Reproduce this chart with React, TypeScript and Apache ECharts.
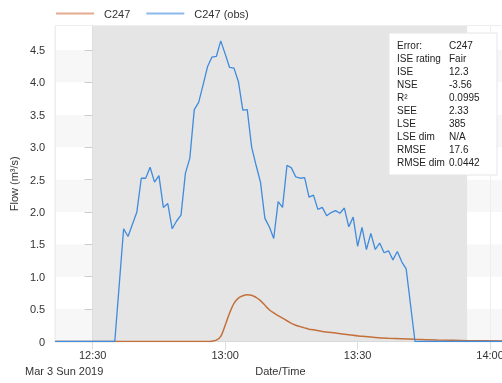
import React, { useEffect, useRef } from "react";
import * as echarts from "echarts";

// minutes after 12:30 on Mar 3 2019
const obsTimes = [-8.5, 5, 7, 8, 10, 11, 12, 13, 14, 15, 16, 17, 18, 19, 20, 21, 22, 23, 24, 25, 26, 27, 28, 29, 30, 31, 32, 33, 34, 35, 36, 37, 38, 39, 40, 41, 42, 43, 44, 45, 46, 47, 48, 49, 50, 51, 52, 53, 54, 55, 56, 57, 58, 59, 60, 61, 62, 63, 64, 65, 66, 67, 68, 69, 70, 71, 73, 93.5];
const obsValues = [0, 0, 1.74, 1.62, 2.0, 2.52, 2.52, 2.69, 2.46, 2.56, 2.07, 2.13, 1.74, 1.86, 1.95, 2.6, 2.83, 3.58, 3.69, 3.96, 4.24, 4.39, 4.4, 4.64, 4.44, 4.23, 4.22, 4.01, 3.57, 3.58, 3.0, 2.72, 2.46, 1.9, 1.77, 1.59, 2.16, 2.07, 2.72, 2.68, 2.54, 2.52, 2.53, 2.23, 2.26, 2.04, 2.07, 1.94, 1.99, 2.02, 1.98, 2.06, 1.77, 1.92, 1.47, 1.76, 1.42, 1.67, 1.42, 1.52, 1.37, 1.4, 1.26, 1.39, 1.23, 1.12, 0, 0];

const modelTimes = [-8.5, 26, 27, 28, 29, 30, 31, 32, 33, 34, 35, 36, 37, 38, 39, 40, 41, 42, 43, 44, 45, 46, 47, 48, 49, 50, 52, 55, 58, 61, 64, 67, 70, 73, 78, 85, 93.5];
const modelValues = [0, 0, 0.005, 0.02, 0.08, 0.25, 0.44, 0.59, 0.67, 0.705, 0.72, 0.715, 0.68, 0.63, 0.56, 0.49, 0.44, 0.4, 0.36, 0.32, 0.28, 0.25, 0.23, 0.21, 0.19, 0.18, 0.155, 0.13, 0.105, 0.08, 0.062, 0.05, 0.042, 0.034, 0.023, 0.013, 0.008];

const statLabels = ["Error:", "ISE rating", "ISE", "NSE", "R²", "SEE", "LSE", "LSE dim", "RMSE", "RMSE dim"];
const statValues = ["C247", "Fair", "12.3", "-3.56", "0.0995", "2.33", "385", "N/A", "17.6", "0.0442"];

const shadedStart = 0;
const shadedEnd = 84.8;

const FONT = "'Liberation Sans', Arial, sans-serif";

function fmtTime(v: number): string {
  const total = 12 * 60 + 30 + Math.round(v);
  const h = Math.floor(total / 60);
  const m = total % 60;
  return `${h}:${m < 10 ? "0" + m : m}`;
}

export default function App() {
  const ref = useRef<HTMLDivElement>(null);
  useEffect(() => {
    if (!ref.current) return;
    const chart = echarts.init(ref.current, null, { renderer: "svg" });
    const graphics: any[] = [
      {
        type: "text",
        left: 25,
        top: 365,
        z: 100,
        style: { text: "Mar 3 Sun 2019", font: `11px ${FONT}`, fill: "#333" },
      },
      {
        type: "rect",
        z: 100,
        shape: { x: 389, y: 33, width: 108, height: 142 },
        style: { fill: "#ffffff", stroke: "#e6e6e6", lineWidth: 1 },
      },
    ];
    statLabels.forEach((l, i) => {
      graphics.push({
        type: "text",
        z: 101,
        x: 397,
        y: 45.5 + i * 13,
        style: { text: l, font: `10px ${FONT}`, fill: "#222", verticalAlign: "middle" },
      });
      graphics.push({
        type: "text",
        z: 101,
        x: 449,
        y: 45.5 + i * 13,
        style: { text: statValues[i], font: `10px ${FONT}`, fill: "#222", verticalAlign: "middle" },
      });
    });

    chart.setOption({
      animation: false,
      textStyle: { fontFamily: FONT },
      grid: { left: 53, top: 26, right: 14.5, bottom: 41.5, show: true, borderColor: "#dddddd", borderWidth: 1, backgroundColor: "transparent" },
      legend: {
        left: 55,
        top: 8,
        padding: 0,
        itemWidth: 38,
        itemHeight: 14,
        itemGap: 15,
        textStyle: { fontSize: 11, color: "#333", padding: [0, 0, 0, 5] },
        data: [
          { name: "C247", itemStyle: { opacity: 0 }, lineStyle: { color: "#e2aa8f", width: 2 } },
          { name: "C247 (obs)", itemStyle: { opacity: 0 }, lineStyle: { color: "#8db9ea", width: 2 } },
        ],
      },
      xAxis: {
        type: "value",
        min: -8.5,
        max: 93.5,
        splitNumber: 3,
        minInterval: 30,
        maxInterval: 30,
        name: "Date/Time",
        nameLocation: "middle",
        nameGap: 23,
        nameTextStyle: { fontSize: 11, color: "#333" },
        axisLine: { show: true, lineStyle: { color: "#cccccc" } },
        axisTick: { show: true, length: 8, lineStyle: { color: "#dddddd" } },
        axisLabel: { fontSize: 11, color: "#333", margin: 8, showMinLabel: false, showMaxLabel: false, formatter: (v: number) => fmtTime(v) },
        splitLine: { show: true, lineStyle: { color: "#eeeeee" } },
      },
      yAxis: {
        type: "value",
        min: 0,
        max: 4.87,
        interval: 0.5,
        name: "Flow (m³/s)",
        nameLocation: "middle",
        nameGap: 32,
        nameTextStyle: { fontSize: 11, color: "#333" },
        axisLine: { show: true, lineStyle: { color: "#dddddd" } },
        axisTick: { show: true, length: 8, lineStyle: { color: "#cccccc" } },
        axisLabel: { fontSize: 11, color: "#333", margin: 10, showMaxLabel: false, formatter: (v: number) => (v === 0 ? "0" : v.toFixed(1)) },
        splitLine: { show: false },
        splitArea: { show: true, areaStyle: { color: ["#f7f7f7", "#ffffff"] } },
      },
      series: [
        {
          name: "C247",
          type: "line",
          symbol: "none",
          smooth: 0.3,
          z: 3,
          lineStyle: { color: "#c4703c", width: 1.5 },
          itemStyle: { color: "#c4703c" },
          data: modelTimes.map((t, i) => [t, modelValues[i]]),
        },
        {
          name: "C247 (obs)",
          type: "line",
          symbol: "none",
          z: 4,
          lineStyle: { color: "#3f8bdc", width: 1.3 },
          itemStyle: { color: "#3f8bdc" },
          data: obsTimes.map((t, i) => [t, obsValues[i]]),
          markArea: {
            silent: true,
            itemStyle: { color: "#e5e5e5" },
            data: [[{ xAxis: shadedStart }, { xAxis: shadedEnd }]],
          },
        },
      ],
      graphic: graphics,
    });
    return () => chart.dispose();
  }, []);
  return <div ref={ref} style={{ position: "fixed", left: 0, top: 0, width: 520, height: 383 }} />;
}
